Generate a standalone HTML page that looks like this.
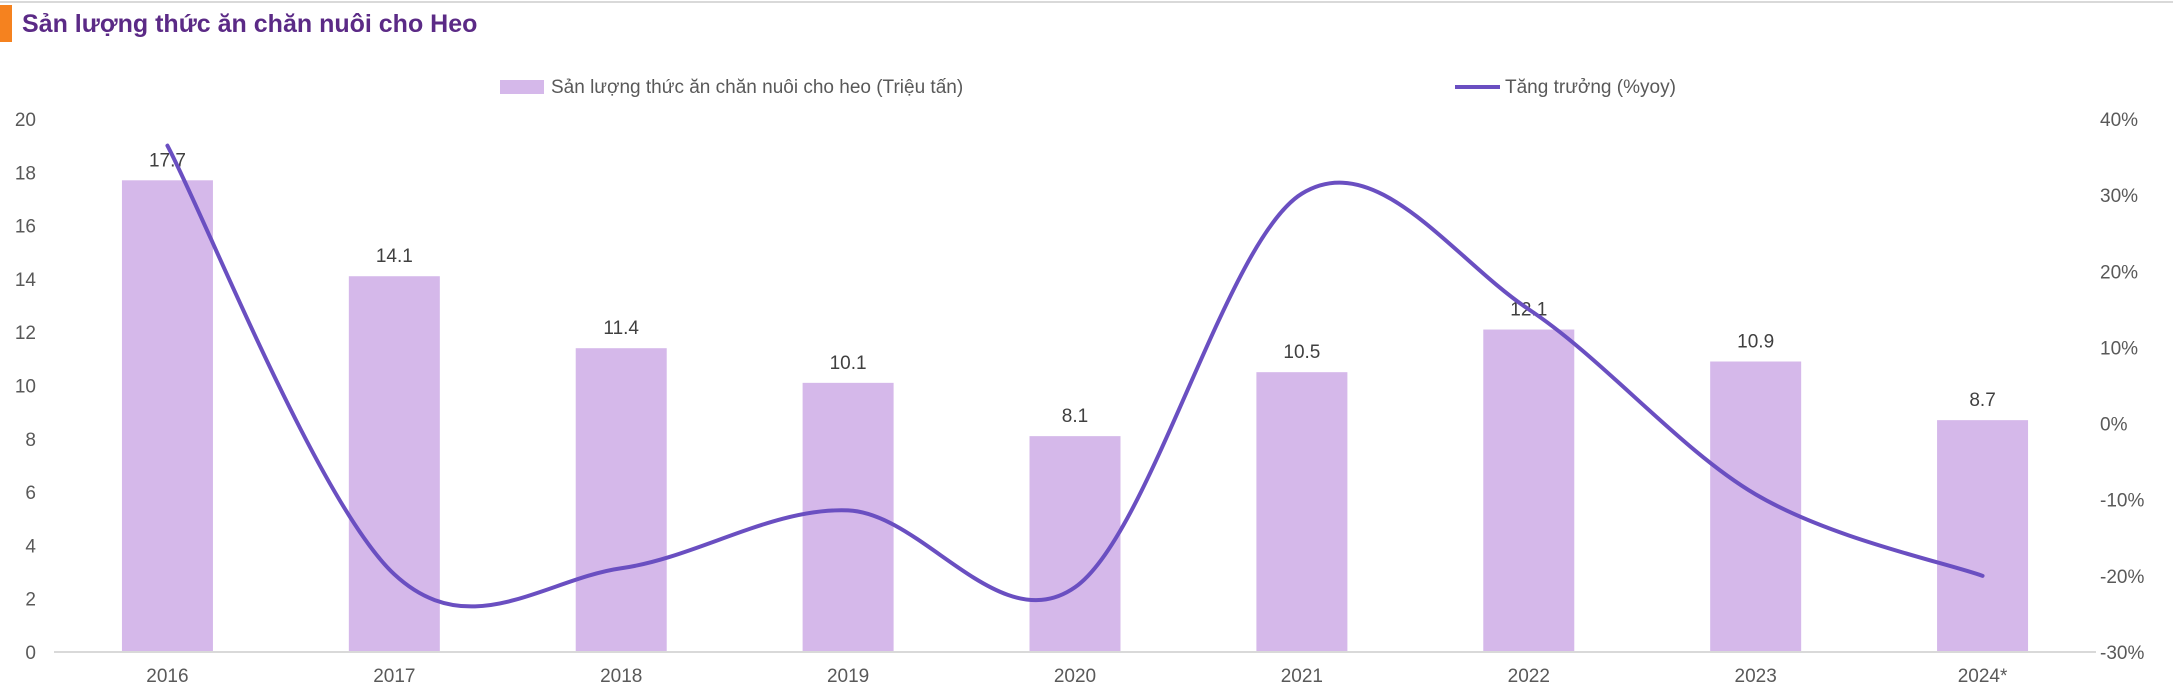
<!DOCTYPE html>
<html><head><meta charset="utf-8"><style>
body{margin:0;background:#fff;width:2173px;height:691px;overflow:hidden;font-family:"Liberation Sans",sans-serif}
svg text{font-family:"Liberation Sans",sans-serif}
</style></head><body>
<svg id="c" width="2173" height="691" viewBox="0 0 2173 691">
<line x1="0" y1="2" x2="2173" y2="2" stroke="#d9d9d9" stroke-width="2"/>
<rect x="0" y="5" width="12" height="37" fill="#f5821f"/>
<text x="22" y="32" font-size="25" font-weight="bold" fill="#5b2a86">Sản lượng thức ăn chăn nuôi cho Heo</text>
<g>
<rect x="500" y="80" width="44" height="14" fill="#d5b8ea"/>
<text x="551" y="93" font-size="19" fill="#595959">Sản lượng thức ăn chăn nuôi cho heo (Triệu tấn)</text>
<line x1="1455" y1="87" x2="1500" y2="87" stroke="#6a4fc1" stroke-width="4"/>
<text x="1505" y="93" font-size="19" fill="#595959">Tăng trưởng (%yoy)</text>
</g>
<g id="g"></g>
</svg>
<script>
const categories=["2016","2017","2018","2019","2020","2021","2022","2023","2024*"];
const volumes=[17.7,14.1,11.4,10.1,8.1,10.5,12.1,10.9,8.7];
const growth=[36.5,-19.8,-19,-11.4,-21.5,30.2,15,-9.3,-20];
const leftTicks=[0,2,4,6,8,10,12,14,16,18,20];
const rightTicks=[-30,-20,-10,0,10,20,30,40];
const NS="http://www.w3.org/2000/svg";
const g=document.getElementById('g');
const y0=652,y1=119,x0=54,x1=2096;
const yL=v=>y0-(v/20)*(y0-y1);
const yR=v=>y0-((v+30)/70)*(y0-y1);
const step=(x1-x0)/categories.length;
const xC=i=>x0+step*(i+0.5);
function mk(t,a,txt){const e=document.createElementNS(NS,t);for(const k in a)e.setAttribute(k,a[k]);if(txt!=null)e.textContent=txt;g.appendChild(e);return e;}
leftTicks.forEach(v=>{const e=mk('text',{x:36,y:yL(v)+7,'font-size':19,fill:'#595959','text-anchor':'end'},String(v));

});
rightTicks.forEach(v=>{const e=mk('text',{x:2100,y:yR(v)+7,'font-size':19,fill:'#595959'},v+'%');

});
const bw=91;
categories.forEach((c,i)=>{
const r=mk('rect',{x:xC(i)-bw/2,y:yL(volumes[i]),width:bw,height:y0-yL(volumes[i]),fill:'#d5b8ea'});


const t=mk('text',{x:xC(i),y:yL(volumes[i])-14,'font-size':19,fill:'#404040','text-anchor':'middle'},volumes[i].toFixed(1));


const l=mk('text',{x:xC(i),y:682,'font-size':19,fill:'#595959','text-anchor':'middle'},c);


});
const ax=mk('line',{x1:x0,y1:y0,x2:x1,y2:y0,stroke:'#d9d9d9','stroke-width':2});


const P=growth.map((v,i)=>[xC(i),yR(v)]);
let d='M'+P[0][0]+','+P[0][1];
for(let i=0;i<P.length-1;i++){const p0=P[i-1]||P[i],p1=P[i],p2=P[i+1],p3=P[i+2]||P[i+1];
const c1=[p1[0]+(p2[0]-p0[0])/6,p1[1]+(p2[1]-p0[1])/6],c2=[p2[0]-(p3[0]-p1[0])/6,p2[1]-(p3[1]-p1[1])/6];
d+=` C${c1[0]},${c1[1]} ${c2[0]},${c2[1]} ${p2[0]},${p2[1]}`;}
const ln=mk('path',{d:d,fill:'none',stroke:'#6a4fc1','stroke-width':4,'stroke-linecap':'round'});


</script>
</body></html>
